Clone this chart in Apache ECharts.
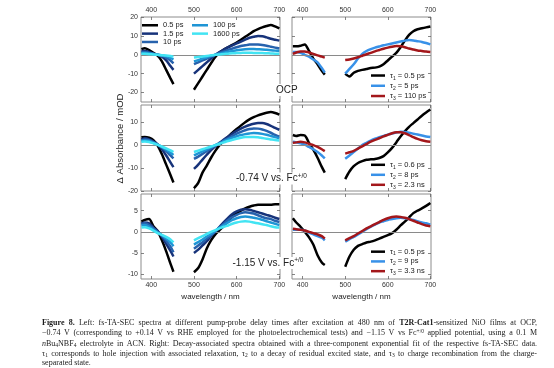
<!DOCTYPE html>
<html><head><meta charset="utf-8">
<script src="https://cdn.jsdelivr.net/npm/echarts@6/dist/echarts.min.js"></script>
<style>html,body{margin:0;padding:0;background:#fff}#c{width:554px;height:368px}</style>
</head><body><div id="c"></div>
<script>
// ---------- DATA ----------
const wavelengths = [377,385,395,405,415,425,435,445,452, 500,510,520,530,540,550,560,570,580,590,600,610,620,630,640,650,660,670,680,690,700];
const gapIndex = 9; // pump scatter gap between 452 and 500 nm
const delayNames = ['0.5 ps','1.5 ps','10 ps','100 ps','1600 ps'];
const ocpTauNames = ['τ1 = 0.5 ps','τ2 = 5 ps','τ3 = 110 ps'];
const m074TauNames = ['τ1 = 0.6 ps','τ2 = 8 ps','τ3 = 2.3 ns'];
const m115TauNames = ['τ1 = 0.5 ps','τ2 = 9 ps','τ3 = 3.3 ns'];
const xTickVals = [400,500,600,700];
const yTickOcp = [-20,-10,0,10,20];
const yTickM074 = [-20,-10,0,10];
const yTickM115 = [-10,-5,0,5];

// OCP fs-TA spectra
const ocp_05   = [3,3.5,2.5,1,-0.5,-3.5,-8,-12.5,-15.5, -18.5,-15,-11.5,-8,-4.5,-1.2,1.2,2.8,4,5.2,6.5,8,9.5,11,12.5,13.6,14.5,15.2,15.8,15,14];
const ocp_15   = [2,2,1.5,0.5,0,-1,-3,-6,-8, -10,-8,-6,-4,-2,0,1.5,2.8,4,5,6,7,8,9,9.5,10,9.8,9.2,8.5,8,7.5];
const ocp_10   = [1.5,1.5,1,0.5,0,-0.5,-1.5,-3,-4.5, -5,-4,-3,-2,-1,0,1,1.8,2.6,3.3,4,4.6,5,5.4,5.5,5.4,5.2,4.8,4.3,3.8,3.3];
const ocp_100  = [1,1,0.8,0.4,0,-0.3,-0.8,-1.6,-2.5, -3.5,-2.8,-2,-1.3,-0.6,0,0.6,1.1,1.6,2,2.4,2.7,2.9,3,3,2.9,2.8,2.6,2.4,2.2,2];
const ocp_1600 = [0.5,0.5,0.3,0.2,0,-0.2,-0.4,-0.7,-1, -1.5,-1.2,-0.9,-0.6,-0.3,0,0.2,0.4,0.6,0.8,0.9,1,1.1,1.1,1,1,0.9,0.8,0.7,0.6,0.5];
// OCP DAS
const ocp_tau1 = [4.5,4.5,4.8,5.5,2,-2,-5,-8.5,-10.5, -10,-11.5,-9.5,-8.5,-8,-7.5,-7,-6.8,-6.3,-5,-3,-1,1,4,7.5,10.5,12.5,13.5,14,14.5,15];
const ocp_tau2 = [1.5,1.5,1,0,-1,-2.5,-4,-7,-9.5, -10,-7.5,-5,-2,0.5,2,3,3.8,4.4,5,5.5,6,6.5,7,7.5,7.8,7.6,7.2,6.8,6.2,5.5];
const ocp_tau3 = [0.5,1.2,1.8,1.8,1.2,0.5,-0.3,-1,-1.5, -2.8,-2.5,-2,-1.3,-0.5,0.3,1,1.8,2.5,3.2,3.8,4.3,4.6,4.5,4,3.3,2.8,2.3,2,1.7,1.5];
// -0.74 V fs-TA spectra
const m074_05   = [3.4,3.6,3.2,2.2,-0.2,-4,-8.5,-13,-16.3, -18.8,-16.5,-12,-8.9,-5.5,-2.5,0,1.8,3.6,5.4,7,8.5,10,11.2,12.2,13,13.6,14.1,14.4,14,13.3];
const m074_15   = [2.5,3,2.5,1.5,0.3,-1.8,-4.5,-7.5,-9.6, -10.4,-8.5,-6.3,-4.2,-2.2,-0.5,1,2.5,3.8,5,6.2,7.2,8.1,8.8,9.3,9.6,9.6,9.2,8.4,7.5,6.7];
const m074_10   = [2,2.5,2.2,1.3,0.3,-1,-2.6,-4.5,-5.8, -6,-5,-3.8,-2.6,-1.4,-0.3,0.8,2,3,4,5,5.8,6.5,7,7.3,7.2,6.8,6.2,5.4,4.5,3.7];
const m074_100  = [1.8,2,1.8,1,0.2,-0.8,-2,-3.3,-4.3, -4.5,-3.6,-2.7,-1.8,-0.9,0,0.8,1.7,2.5,3.2,3.9,4.4,4.8,5.1,5.3,5.2,4.9,4.5,4,3.5,3];
const m074_1600 = [1.5,1.6,1.4,0.8,0.1,-0.6,-1.4,-2.3,-3, -3,-2.4,-1.8,-1.2,-0.6,0,0.6,1.2,1.8,2.3,2.8,3.2,3.5,3.6,3.6,3.4,3.1,2.8,2.5,2.2,2];
// -0.74 V DAS
const m074_tau1 = [4.4,4,4.4,4.2,1,-2,-5.5,-9.5,-12, -14.8,-11.5,-9.2,-7.8,-7,-6.4,-6.2,-6,-5.6,-4.8,-3.2,-1.2,1.2,3.8,6,8,9.6,11.2,12.8,14.2,15.5];
const m074_tau2 = [1.5,1.2,0.8,0.2,-0.8,-1.8,-3,-4.5,-5.8, -5.9,-4.5,-3,-1.5,0,1,2,2.8,3.5,4,4.6,5.1,5.5,5.8,5.7,5.4,5,4.6,4.2,3.8,3.5];
const m074_tau3 = [1,1.2,1.5,1.2,0.6,0,-0.8,-1.8,-2.6, -3.7,-3.1,-2.5,-1.5,-0.5,0.5,1.5,2.3,3,3.8,4.5,5.2,5.6,5.6,5.2,4.4,3.5,2.7,2.1,1.7,1.5];
// -1.15 V fs-TA spectra
const m115_05   = [2.4,2.8,3,1.3,0.2,-2,-4.6,-7.5,-9.4, -9.5,-8.5,-6.5,-3.9,-2,-0.6,0.4,1.4,2.5,3.6,4.4,5,5.5,5.9,6.2,6.4,6.4,6.4,6.4,6.5,6.5];
const m115_15   = [2,2.2,2,1,0.2,-1.2,-2.8,-4.5,-5.8, -5,-4.2,-3.2,-2.2,-1,0,1.2,2.3,3.3,4.2,4.8,5.2,5.3,5.2,4.9,4.6,4.3,4,3.7,3.3,3];
const m115_10   = [1.8,2,1.6,0.8,0,-0.9,-2.1,-3.5,-4.8, -4,-3.2,-2.5,-1.6,-0.8,0.1,1,1.9,2.8,3.5,4,4.4,4.6,4.5,4.3,3.9,3.5,3.2,3,2.6,2.3];
const m115_100  = [1.5,1.6,1.2,0.5,-0.2,-0.8,-1.6,-2.5,-3.4, -3,-2.4,-1.8,-1.1,-0.5,0.2,1,1.6,2.2,2.8,3.2,3.5,3.6,3.5,3.3,3.1,2.8,2.5,2.2,1.9,1.6];
const m115_1600 = [1,1.1,0.8,0.3,-0.3,-0.7,-1.2,-1.8,-2.5, -2,-1.5,-1,-0.5,0,0.4,0.8,1.2,1.5,1.9,2.2,2.4,2.5,2.4,2.2,2,1.8,1.6,1.3,1.1,1];
// -1.15 V DAS
const m115_tau1 = [3.2,2.2,1.2,0,-1.3,-3,-5.5,-7.2,-7.8, -8.2,-5.8,-4.2,-3.3,-2.9,-2.5,-2.3,-2,-1.6,-1.2,-0.8,-0.3,0.5,1.5,2.4,3.4,4.4,5,5.5,6.1,6.8];
const m115_tau2 = [0.5,0.5,0.5,0.3,-0.2,-0.6,-1,-1.4,-2, -2.3,-1.7,-1.2,-0.6,0,0.6,1.2,1.7,2.2,2.5,2.8,3,3.2,3.3,3.2,3,2.8,2.5,2.2,2,1.7];
const m115_tau3 = [0.7,0.6,0.5,0.3,0,-0.3,-0.6,-1,-1.6, -2,-1.5,-1,-0.4,0.2,0.8,1.3,1.8,2.3,2.8,3.2,3.5,3.6,3.5,3.3,3,2.6,2.2,1.8,1.5,1.3];

// ---------- STYLE / LAYOUT ----------
const FONT = '"Liberation Sans", Arial, sans-serif';
const SERIF = '"Liberation Serif", "Times New Roman", serif';
const delayColors = ['#000000','#17337a','#2762ad','#1f95d5','#42e4f3'];
const tauColors = ['#000000','#3891e8','#a3171b'];
const rows = [{top:17,height:85},{top:105,height:86},{top:194,height:85}];
const cols = [{left:141,width:139},{left:292,width:139}];
const yMin = [-25,-20,-11.1], yMax = [20,17.5,8.9];
const yTicks = [yTickOcp, yTickM074, yTickM115];
const xMin = [376,375], xMax = [701.5,701.5];

const panels = [
  {names:delayNames, colors:delayColors, data:[ocp_05,ocp_15,ocp_10,ocp_100,ocp_1600]},
  {names:ocpTauNames, colors:tauColors, data:[ocp_tau1,ocp_tau2,ocp_tau3]},
  {names:delayNames, colors:delayColors, data:[m074_05,m074_15,m074_10,m074_100,m074_1600]},
  {names:m074TauNames, colors:tauColors, data:[m074_tau1,m074_tau2,m074_tau3]},
  {names:delayNames, colors:delayColors, data:[m115_05,m115_15,m115_10,m115_100,m115_1600]},
  {names:m115TauNames, colors:tauColors, data:[m115_tau1,m115_tau2,m115_tau3]}
];

function build(vals){
  const out=[];
  wavelengths.forEach((w,i)=>{ if(i===gapIndex) out.push([476,'-']); out.push([w, vals[i]]); });
  return out;
}

const grids=[], xAxes=[], yAxes=[], series=[];
for (let r=0;r<3;r++) for (let c=0;c<2;c++){
  const g = r*2+c;
  grids.push({left:cols[c].left, width:cols[c].width, top:rows[r].top, height:rows[r].height,
    show:true, borderColor:'#8c8c8c', borderWidth:1, backgroundColor:'rgba(0,0,0,0)',
    containLabel:false, outerBoundsMode:'none'});
  ['bottom','top'].forEach(pos=>{
    const lab = (pos==='top'&&r===0)||(pos==='bottom'&&r===2);
    xAxes.push({type:'value', gridIndex:g, position:pos, min:xMin[c], max:xMax[c],
      axisLine:{show:false,onZero:false}, splitLine:{show:false},
      axisTick:{show:true,inside:true,length:3,customValues:xTickVals,lineStyle:{color:'#666',width:0.8}},
      axisLabel:{show:lab,customValues:xTickVals,fontSize:7,color:'#333',fontFamily:FONT,margin:pos==='top'?3:2.5},
      name:(pos==='bottom'&&r===2)?'wavelength / nm':'', nameLocation:'middle', nameGap:13.5,
      nameTextStyle:{fontSize:8,color:'#222',fontFamily:FONT}});
  });
  ['left','right'].forEach(pos=>{
    yAxes.push({type:'value', gridIndex:g, position:pos, min:yMin[r], max:yMax[r],
      axisLine:{show:false,onZero:false}, splitLine:{show:false},
      axisTick:{show:true,inside:true,length:3,customValues:yTicks[r],lineStyle:{color:'#666',width:0.8}},
      axisLabel:{show:pos==='left'&&c===0,customValues:yTicks[r],fontSize:7,color:'#333',fontFamily:FONT,margin:3}});
  });
  const p = panels[g];
  p.data.forEach((arr,k)=>{
    const s = {type:'line', name:p.names[k], xAxisIndex:2*g, yAxisIndex:2*g, data:build(arr),
      showSymbol:false, symbol:'none', smooth:0.25, animation:false, silent:true, z:3+k,
      lineStyle:{width:2.5,color:p.colors[k]}, itemStyle:{color:p.colors[k]}};
    if(k===0){
      s.markLine={silent:true,symbol:'none',label:{show:false},animation:false,
        lineStyle:{color:'#8a8a8a',width:1,type:'solid'},emphasis:{disabled:true},data:[{yAxis:0}]};
    }
    series.push(s);
  });
}

const tauRich = {t:{fontSize:7.5,fontFamily:FONT,color:'#222'}, s:{fontSize:5,fontFamily:FONT,color:'#222',verticalAlign:'bottom'}};
function tauFmt(n){ return n.replace(/^τ(\d)(.*)$/, '{t|τ}{s|$1}{t|$2}'); }
function mkTauLegend(names, top, lh){
  const rich = {t:Object.assign({lineHeight:lh},tauRich.t), s:Object.assign({lineHeight:5},tauRich.s)};
  return {data:names, left:371, top:top, orient:'vertical', icon:'rect', itemWidth:14, itemHeight:2.5,
    itemGap:0, padding:0, selectedMode:false, formatter:tauFmt,
    textStyle:{fontSize:7.5,lineHeight:lh,color:'#222',fontFamily:FONT,rich:rich}};
}
const legends = [
  {data:delayNames.slice(0,3), left:142, top:21.1, orient:'vertical', icon:'rect', itemWidth:16, itemHeight:2.5,
   itemGap:0, padding:0, selectedMode:false, textStyle:{fontSize:7.5,lineHeight:8.35,color:'#222',fontFamily:FONT}},
  {data:delayNames.slice(3), left:192, top:21.1, orient:'vertical', icon:'rect', itemWidth:16, itemHeight:2.5,
   itemGap:0, padding:0, selectedMode:false, textStyle:{fontSize:7.5,lineHeight:8.35,color:'#222',fontFamily:FONT}},
  mkTauLegend(ocpTauNames, 70.4, 10.25),
  mkTauLegend(m074TauNames, 159.8, 10),
  mkTauLegend(m115TauNames, 246.8, 9.75)
];

// ---------- TEXT (graphic) ----------
const graphics = [];
graphics.push({type:'text', x:120.7, y:138.5, rotation:Math.PI/2, z:50,
  style:{text:'Δ Absorbance / mOD', fontSize:9.5, fontFamily:FONT, fill:'#222', align:'center', verticalAlign:'middle'}});
const annRich = {sup:{fontSize:6.5,fontFamily:FONT,fill:'#222',lineHeight:7,verticalAlign:'top'}};
[['OCP',275,90],['-0.74 V vs. Fc{sup|+/0}',235,178.5],['-1.15 V vs. Fc{sup|+/0}',231.5,263]].forEach(a=>{
  graphics.push({type:'text', x:a[1], y:a[2], z:50,
    style:{text:a[0], fontSize:10, fontFamily:FONT, fill:'#222', lineHeight:12, align:'left', verticalAlign:'middle',
      backgroundColor:'#fff', padding:[0,1], rich:annRich}});
});

// caption, justified word by word
const capSize = 8, capSub = 5.5;
const captionLines = [
  '{b|Figure} {b|8.} Left: fs-TA-SEC spectra at different pump-probe delay times after excitation at 480 nm of {b|T2R-Cat1}-sensitized NiO films at OCP,',
  '−0.74 V (corresponding to +0.14 V vs RHE employed for the photoelectrochemical tests) and −1.15 V vs Fc{sup|+/0} applied potential, using a 0.1 M',
  '{i|n}Bu{sub|4}NBF{sub|4} electrolyte in ACN. Right: Decay-associated spectra obtained with a three-component exponential fit of the respective fs-TA-SEC data.',
  'τ{sub|1} corresponds to hole injection with associated relaxation, τ{sub|2} to a decay of residual excited state, and τ{sub|3} to charge recombination from the charge-',
  'separated state.'
];
const capY = [322.7,333.2,343.5,353.8,363.2];
const capX0 = 42, capW = 495;
const mctx = document.createElement('canvas').getContext('2d');
const fontFor = st => {
  const fam = '"Liberation Serif"';
  if(st==='b') return 'bold '+capSize+'px '+fam;
  if(st==='i') return 'italic '+capSize+'px '+fam;
  if(st==='sub'||st==='sup') return capSub+'px '+fam;
  return capSize+'px '+fam;
};
function measure(word){
  let w=0; const re=/\{(\w+)\|([^}]*)\}|([^{]+)/g; let m;
  while((m=re.exec(word))){ const st=m[1]||'r', tx=m[1]?m[2]:m[3]; mctx.font=fontFor(st); w+=mctx.measureText(tx).width; }
  return w;
}
const capRich = {
  b:{fontSize:capSize,fontFamily:SERIF,fontWeight:'bold',fill:'#1a1a1a',lineHeight:10},
  i:{fontSize:capSize,fontFamily:SERIF,fontStyle:'italic',fill:'#1a1a1a',lineHeight:10},
  sub:{fontSize:capSub,fontFamily:SERIF,fill:'#1a1a1a',lineHeight:6,verticalAlign:'bottom'},
  sup:{fontSize:capSub,fontFamily:SERIF,fill:'#1a1a1a',lineHeight:6,verticalAlign:'top'}
};
captionLines.forEach((line,li)=>{
  const words = line.split(' ');
  const ws = words.map(measure);
  mctx.font = fontFor('r');
  const sp = mctx.measureText(' ').width;
  const total = ws.reduce((a,b)=>a+b,0);
  const gap = (li<captionLines.length-1) ? (capW-total)/(words.length-1) : sp;
  let x = capX0;
  words.forEach((wd,k)=>{
    graphics.push({type:'text', x:x, y:capY[li], z:50,
      style:{text:wd, fontSize:capSize, fontFamily:SERIF, fill:'#1a1a1a', lineHeight:10, align:'left', verticalAlign:'middle', rich:capRich}});
    x += ws[k] + gap;
  });
});

const chart = echarts.init(document.getElementById('c'), null, {renderer:'canvas', width:554, height:368});
chart.setOption({
  animation:false, backgroundColor:'#ffffff',
  grid:grids, xAxis:xAxes, yAxis:yAxes, series:series, legend:legends, graphic:graphics
});
</script></body></html>
